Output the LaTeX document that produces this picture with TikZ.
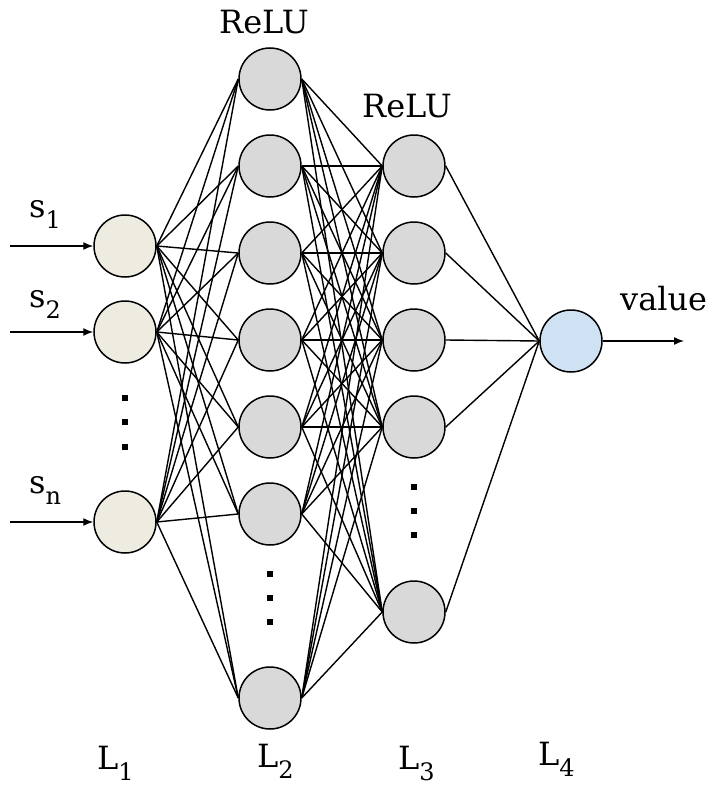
\documentclass[tikz,border=0pt]{standalone}
\usepackage{fontspec}
\setmainfont{DejaVu Serif}
\usepackage{xcolor}
\usepackage{tikz}
\usetikzlibrary{arrows.meta,positioning}
\definecolor{inbeige}{HTML}{EEECE1}
\definecolor{hidgrey}{HTML}{D9D9D9}
\definecolor{outblue}{HTML}{CFE2F3}
\newcommand{\lowidx}[1]{\raisebox{-11pt}{\fontsize{24}{24}\selectfont #1}}

\begin{document}
\begin{tikzpicture}[
  x=1pt, y=-1pt,
  neuron/.style={circle, draw=black, line width=1.5pt, minimum size=62pt, inner sep=0pt},
  wire/.style={line width=1.4pt},
  lbl/.style={font=\fontsize{32}{36}\selectfont, inner sep=0pt, anchor=base west},
  sqdot/.style={fill=black}
]
  \useasboundingbox (0,0) rectangle (719,787);

  % input layer
  \node[neuron, fill=inbeige] (a1) at (125,246) {};
  \node[neuron, fill=inbeige] (a2) at (125,332) {};
  \node[neuron, fill=inbeige] (a3) at (125,522) {};
  % hidden layers
  \foreach \i/\y in {1/79,2/166,3/253,4/340,5/427,6/514,7/698}
    \node[neuron, fill=hidgrey] (b\i) at (270,\y) {};
  \foreach \i/\y in {1/166,2/253,3/340,4/427,5/612}
    \node[neuron, fill=hidgrey] (c\i) at (414,\y) {};
  % output
  \node[neuron, fill=outblue] (d) at (571,341) {};

  % dots
  \foreach \x/\y in {125/398,125/422,125/447,270/574,270/598,270/622,414/487,414/511,414/535}
    \fill[sqdot] (\x-3,\y-3) rectangle (\x+3,\y+3);

  % connections
  \foreach \i in {1,2,3}
    \foreach \j in {1,...,7}
      \draw[wire] (a\i.east) -- (b\j.west);
  \foreach \i in {1,...,7}
    \foreach \j in {1,...,5}
      \draw[wire] (b\i.east) -- (c\j.west);
  \foreach \j in {1,...,5}
    \draw[wire] (c\j.east) -- (d.west);

  % inputs and output
  \foreach \i/\y in {1/246,2/332,3/522} {
    \coordinate (in\i) at (10,\y);
    \draw[wire, -{Latex[length=10pt,width=8pt]}] (in\i) -- (a\i.west);
  }
  \coordinate (out) at (684,341);
  \draw[wire, -{Latex[length=10pt,width=8pt]}] (d.east) -- (out);

  % labels
  \node[lbl] (s1) at (29,217) {s\lowidx{1}};
  \node[lbl] (s2) at (29,307) {s\lowidx{2}};
  \node[lbl] (sn) at (29,493) {s\lowidx{n}};
  \node[lbl] (relu1) at (219,33) {ReLU};
  \node[lbl] (relu2) at (362,117) {ReLU};
  \node[lbl] (val) at (620,310) {value};
  \node[lbl] (l1) at (97,769) {L\lowidx{1}};
  \node[lbl] (l2) at (257,767) {L\lowidx{2}};
  \node[lbl] (l3) at (398,769) {L\lowidx{3}};
  \node[lbl] (l4) at (538,765) {L\lowidx{4}};
\end{tikzpicture}
\end{document}
